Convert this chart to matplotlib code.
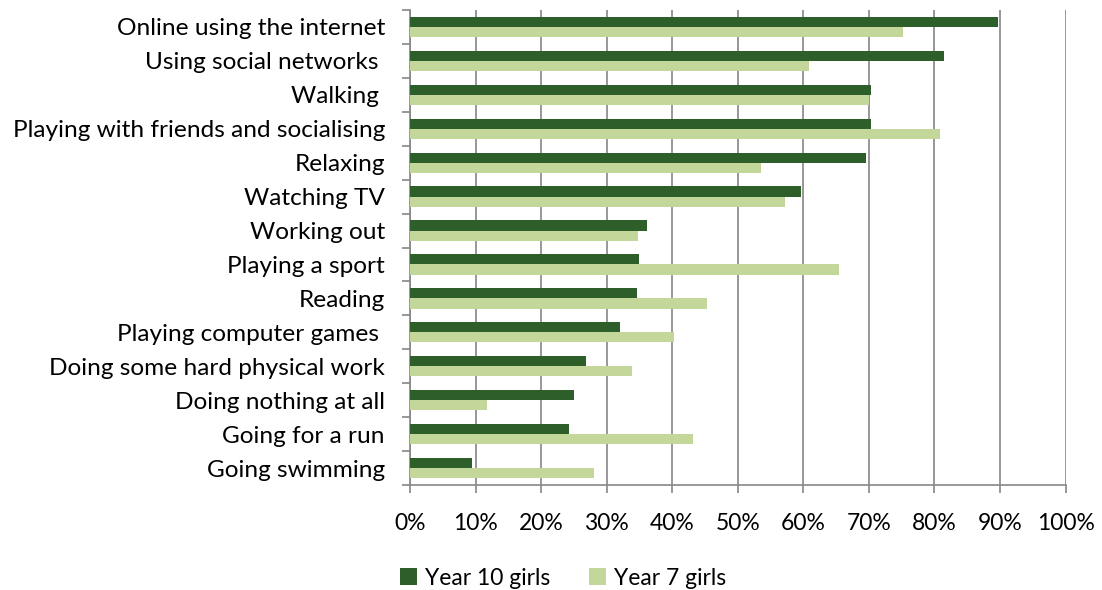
import numpy as np
import matplotlib
matplotlib.use('Agg')
import matplotlib.pyplot as plt
from matplotlib.ticker import FuncFormatter, FixedLocator

# activities, top to bottom
activities = ["Online using the internet", "Using social networks ", "Walking ",
              "Playing with friends and socialising", "Relaxing", "Watching TV",
              "Working out", "Playing a sport", "Reading", "Playing computer games ",
              "Doing some hard physical work", "Doing nothing at all",
              "Going for a run", "Going swimming"]
year10 = [89.7, 81.4, 70.3, 70.3, 69.6, 59.6, 36.2, 34.9, 34.6, 32.1, 26.9, 25.0, 24.3, 9.5]
year7 = [75.2, 60.9, 70.0, 80.9, 53.6, 57.2, 34.8, 65.4, 45.3, 40.2, 33.9, 11.7, 43.2, 28.1]
xticks = list(range(0, 101, 10))

dark = '#2E5F2A'
light = '#C4D79B'
grid = '#868686'

plt.rcParams['font.family'] = ['Lato', 'DejaVu Sans']

fig = plt.figure(figsize=(11.02, 5.90), dpi=100)
ax = fig.add_axes([0.372, 0.178, 0.595, 0.805])

n = len(activities)
pos = np.arange(n)[::-1]
h = 0.3
ax.barh(pos + h / 2, year10, height=h, color=dark, label='Year 10 girls', zorder=3)
ax.barh(pos - h / 2, year7, height=h, color=light, label='Year 7 girls', zorder=3)

ax.set_xlim(0, 100)
ax.set_ylim(-0.5, n - 0.5)
ax.xaxis.set_major_locator(FixedLocator(xticks))
ax.xaxis.set_major_formatter(FuncFormatter(lambda x, p: '%d%%' % x))
ax.grid(axis='x', color=grid, linewidth=1.2, zorder=0)

ax.set_yticks(pos)
ax.set_yticklabels(activities)
ax.set_yticks(np.arange(n + 1) - 0.5, minor=True)
ax.tick_params(axis='y', which='major', length=0, pad=18, labelsize=17.6)
ax.tick_params(axis='y', which='minor', length=6, width=1.2, color=grid)
ax.tick_params(axis='x', length=6, width=1.2, color=grid, pad=14, labelsize=16.5)

for s in ['top', 'right']:
    ax.spines[s].set_visible(False)
for s in ['left', 'bottom']:
    ax.spines[s].set_color(grid)
    ax.spines[s].set_linewidth(1.2)

fig.legend(loc='center', bbox_to_anchor=(0.511, 0.02), ncol=2, frameon=False,
           fontsize=16.5, handlelength=0.75, handleheight=0.75, handletextpad=0.35,
           columnspacing=1.7)

fig.savefig('out.png', dpi=100)
